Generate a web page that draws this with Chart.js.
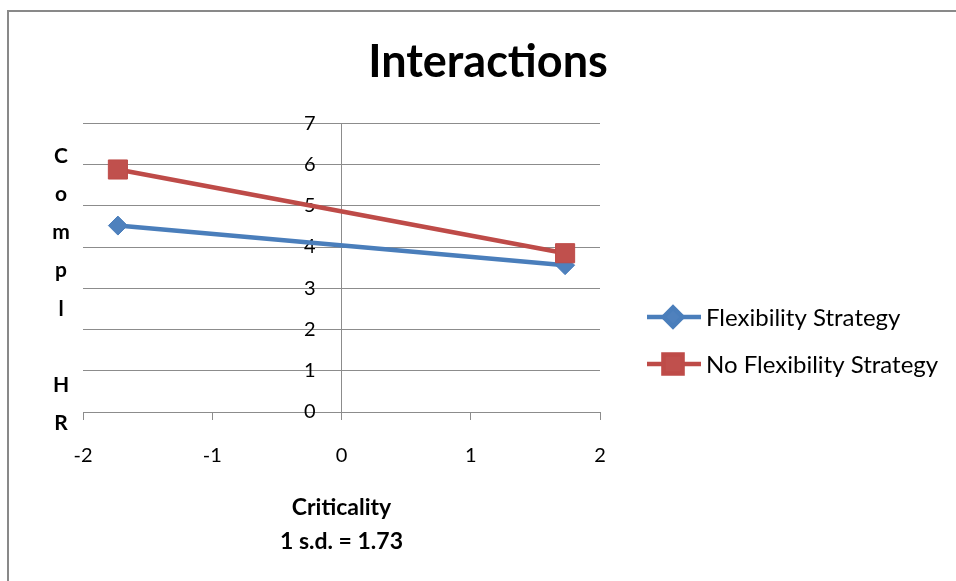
<!DOCTYPE html>
<html>
<head>
<meta charset="utf-8">
<script src="https://cdn.jsdelivr.net/npm/chart.js@4.4.0/dist/chart.umd.min.js"></script>
<style>
  html, body { margin: 0; padding: 0; background: #fff; overflow: hidden; }
  .frame { position: absolute; left: 7px; top: 10px; width: 1000px; height: 620px;
           border-top: 2px solid #898989; border-left: 2px solid #898989; }
  canvas { position: absolute; left: 0; top: 0; }
</style>
</head>
<body>
<div class="frame"></div>
<canvas id="interChart" width="956" height="581"></canvas>
<script>
// values
const criticality = [-1.73, 1.73];
const flexValues = [4.52, 3.56];
const noFlexValues = [5.88, 3.85];
const seriesNames = ['Flexibility Strategy', 'No Flexibility Strategy'];
const xTicks = [-2, -1, 0, 1, 2];
const yTicks = [0, 1, 2, 3, 4, 5, 6, 7];
const yTitleLetters = ['C', 'o', 'm', 'p', 'l', '', 'H', 'R'];
const xTitleLines = ['Criticality', '1 s.d. = 1.73'];

const gray = '#8c8c8c';
Chart.defaults.font.family = 'Lato, "Liberation Sans", sans-serif';
Chart.defaults.color = '#000';

const toPoints = vals => vals.map((v, i) => ({ x: criticality[i], y: v }));
const setTicks = list => s => { s.ticks = list.map(v => ({ value: v })); };

// stacked y title letters + legend with line and marker
const sideText = {
  id: 'sideText',
  afterDraw(chart) {
    const ctx = chart.ctx;
    ctx.save();
    ctx.fillStyle = '#000';
    ctx.textAlign = 'center';
    ctx.textBaseline = 'middle';
    ctx.font = 'bold 21px Lato';
    yTitleLetters.forEach((ch, i) => ctx.fillText(ch, 61, 156 + 38.2 * i));

    chart.data.datasets.forEach((ds, i) => {
      const y = 317 + 47 * i;
      ctx.strokeStyle = ds.borderColor;
      ctx.lineWidth = ds.borderWidth;
      ctx.beginPath();
      ctx.moveTo(647, y);
      ctx.lineTo(701, y);
      ctx.stroke();
      ctx.fillStyle = ds.pointBackgroundColor;
      ctx.strokeStyle = ds.pointBorderColor;
      Chart.helpers.drawPoint(ctx, {
        pointStyle: ds.pointStyle, radius: ds.pointRadius,
        borderWidth: ds.pointBorderWidth, rotation: 0
      }, 673, y);
      ctx.fillStyle = '#000';
      ctx.textAlign = 'left';
      ctx.font = '24px Lato';
      ctx.fillText(ds.label, 706, y + 1);
    });
    ctx.restore();
  }
};

const ctx = document.getElementById('interChart').getContext('2d');
const interChart = new Chart(ctx, {
  type: 'scatter',
  data: {
    datasets: [
      {
        label: seriesNames[0],
        data: toPoints(flexValues),
        showLine: true,
        borderColor: '#4a7ebb',
        borderWidth: 4.5,
        pointStyle: 'rectRot',
        pointRadius: 9.5,
        pointBackgroundColor: '#4f81bd',
        pointBorderColor: '#4a7ebb',
        pointBorderWidth: 1,
        xAxisID: 'x',
        yAxisID: 'y',
        order: 1
      },
      {
        label: seriesNames[1],
        data: toPoints(noFlexValues),
        showLine: true,
        borderColor: '#be4b48',
        borderWidth: 4.5,
        pointStyle: 'rect',
        pointRadius: 13.5,
        pointBackgroundColor: '#c0504d',
        pointBorderColor: '#be4b48',
        pointBorderWidth: 1,
        xAxisID: 'x',
        yAxisID: 'y',
        order: 0
      }
    ]
  },
  options: {
    responsive: false,
    animation: false,
    layout: { padding: { top: 10, left: 83, right: 63, bottom: 23 } },
    plugins: {
      legend: { display: false },
      tooltip: { enabled: false },
      title: {
        display: true,
        text: 'Interactions',
        color: '#000',
        font: { size: 45, weight: 'bold' },
        padding: { top: 25.5, bottom: 33.8 }
      }
    },
    scales: {
      x: {
        type: 'linear',
        position: 'bottom',
        min: -2,
        max: 2,
        afterBuildTicks: setTicks(xTicks),
        grid: { drawOnChartArea: false, drawTicks: true, tickLength: 8, color: gray },
        border: { color: gray },
        ticks: { padding: 24, font: { size: 20 }, color: '#000' },
        title: {
          display: true,
          text: xTitleLines,
          color: '#000',
          font: { size: 23, weight: 'bold', lineHeight: '33.5px' },
          padding: { top: -1, bottom: 0 }
        }
      },
      // axis line and grid at x = 0
      y: {
        type: 'linear',
        axis: 'y',
        position: { x: 0 },
        min: 0,
        max: 7,
        afterBuildTicks: setTicks(yTicks),
        grid: { color: gray, drawTicks: false },
        border: { color: gray },
        ticks: { display: false }
      },
      // tick labels, set a little left of the axis line
      yLabels: {
        type: 'linear',
        axis: 'y',
        position: { x: -0.2 },
        min: 0,
        max: 7,
        afterBuildTicks: setTicks(yTicks),
        grid: { display: false },
        border: { display: false },
        ticks: { padding: 0, font: { size: 20 }, color: '#000' }
      },
      spacer: {
        type: 'linear',
        axis: 'y',
        position: 'right',
        display: true,
        grid: { display: false },
        border: { display: false },
        ticks: { display: false },
        afterFit: s => { s.width = 293; }
      }
    }
  },
  plugins: [sideText]
});
</script>
</body>
</html>
